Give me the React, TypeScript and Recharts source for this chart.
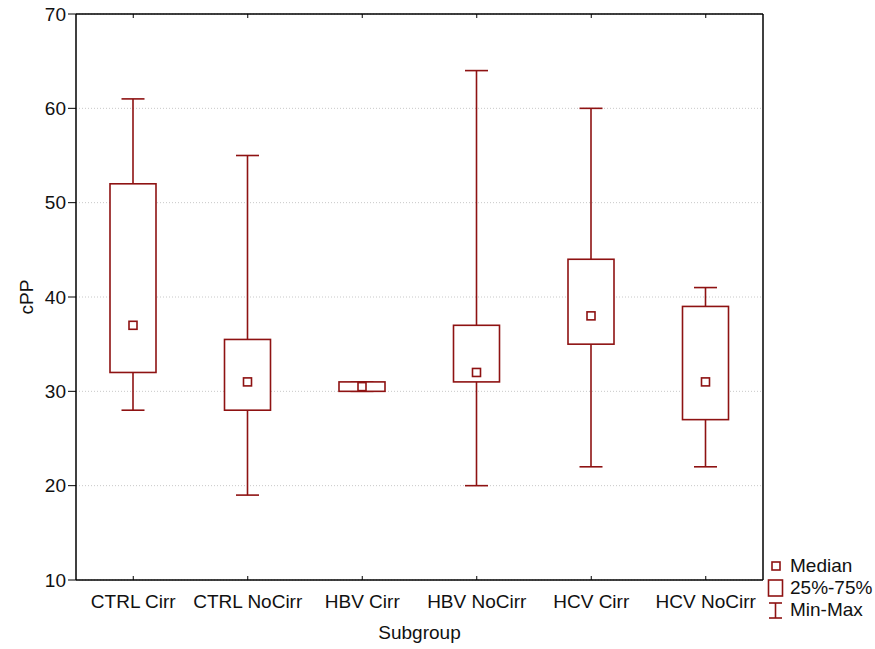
import { ComposedChart, Bar, XAxis, YAxis, CartesianGrid } from 'recharts';

const groups = ['CTRL Cirr', 'CTRL NoCirr', 'HBV Cirr', 'HBV NoCirr', 'HCV Cirr', 'HCV NoCirr'];
const mins = [28, 19, 30, 20, 22, 22];
const q1s = [32, 28, 30, 31, 35, 27];
const medians = [37, 31, 30.5, 32, 38, 31];
const q3s = [52, 35.5, 31, 37, 44, 39];
const maxs = [61, 55, 31, 64, 60, 41];
const yTicks = [10, 20, 30, 40, 50, 60, 70];

const RED = '#8e1212';
const FONT = '"Liberation Sans", Arial, sans-serif';

const data = groups.map((g, i) => ({
    group: g,
    min: mins[i],
    q1: q1s[i],
    median: medians[i],
    q3: q3s[i],
    max: maxs[i]
}));

function BoxShape(props: any) {
    const { x, y, width, height, payload } = props;
    const top = Math.min(y, y + height);
    const h = Math.abs(height);
    const span = payload.max - payload.min;
    const py = (v: number) => (span === 0 ? top : top + ((payload.max - v) / span) * h);
    const cx = x + width / 2;
    const capHalf = width / 4;
    const yMax = py(payload.max);
    const yMin = py(payload.min);
    const yQ3 = py(payload.q3);
    const yQ1 = py(payload.q1);
    const yMed = py(payload.median);
    return (
        <g stroke={RED} strokeWidth={1.6} fill="none">
            <line x1={cx} x2={cx} y1={yMax} y2={yQ3} />
            <line x1={cx} x2={cx} y1={yQ1} y2={yMin} />
            <line x1={cx - capHalf} x2={cx + capHalf} y1={yMax} y2={yMax} />
            <line x1={cx - capHalf} x2={cx + capHalf} y1={yMin} y2={yMin} />
            <rect x={x} y={yQ3} width={width} height={yQ1 - yQ3} fill="#fff" />
            <rect x={cx - 4} y={yMed - 4} width={8} height={8} fill="#fff" />
        </g>
    );
}

function LegendBox() {
    const row = { display: 'flex', alignItems: 'center', height: 22 };
    const text = { marginLeft: 6, fontSize: 19, color: '#111' };
    return (
        <div style={{ position: 'absolute', left: 767, top: 555, fontFamily: FONT }}>
            <div style={row}>
                <svg width={17} height={20}>
                    <rect x={5} y={6} width={8} height={8} fill="#fff" stroke={RED} strokeWidth={1.6} />
                </svg>
                <span style={text}>Median</span>
            </div>
            <div style={row}>
                <svg width={17} height={20}>
                    <rect x={1.5} y={2} width={14} height={16} fill="#fff" stroke={RED} strokeWidth={1.6} />
                </svg>
                <span style={text}>25%-75%</span>
            </div>
            <div style={row}>
                <svg width={17} height={20}>
                    <g stroke={RED} strokeWidth={1.6}>
                        <line x1={2} x2={15} y1={3} y2={3} />
                        <line x1={2} x2={15} y1={18} y2={18} />
                        <line x1={8.5} x2={8.5} y1={3} y2={18} />
                    </g>
                </svg>
                <span style={text}>Min-Max</span>
            </div>
        </div>
    );
}

export default function App() {
    const tickStyle = { fill: '#111', fontSize: 19, fontFamily: FONT };
    return (
        <div style={{ position: 'absolute', left: 0, top: 0, width: 875, height: 649, background: '#fff' }}>
            <ComposedChart
                width={875}
                height={649}
                data={data}
                margin={{ top: 13, right: 111, bottom: 7, left: 16 }}
            >
                <CartesianGrid vertical={false} stroke="#c8c8c8" strokeDasharray="1 2" />
                <XAxis
                    dataKey="group"
                    height={62}
                    tickSize={-4}
                    tickMargin={19}
                    interval={0}
                    stroke="#000"
                    axisLine={{ stroke: '#000', strokeWidth: 1.5 }}
                    tickLine={{ stroke: '#000' }}
                    tick={tickStyle}
                    label={{ value: 'Subgroup', position: 'insideBottom', offset: 3, style: { ...tickStyle } }}
                />
                <XAxis
                    xAxisId="top"
                    orientation="top"
                    dataKey="group"
                    height={1}
                    tickSize={-4}
                    interval={0}
                    axisLine={{ stroke: '#000', strokeWidth: 1.5 }}
                    tickLine={{ stroke: '#000' }}
                    tick={() => <g />}
                />
                <YAxis
                    domain={[10, 70]}
                    ticks={yTicks}
                    width={60}
                    tickSize={8}
                    tickMargin={2}
                    axisLine={{ stroke: '#000', strokeWidth: 1.5 }}
                    tickLine={{ stroke: '#000' }}
                    tick={tickStyle}
                    label={{ value: 'cPP', angle: -90, position: 'insideLeft', offset: 10, style: { ...tickStyle, textAnchor: 'middle' } }}
                />
                <YAxis
                    yAxisId="r"
                    orientation="right"
                    domain={[10, 70]}
                    ticks={yTicks}
                    width={1}
                    tickSize={-4}
                    axisLine={{ stroke: '#000', strokeWidth: 1.5 }}
                    tickLine={{ stroke: '#000' }}
                    tick={() => <g />}
                />
                <Bar
                    dataKey={(d: any) => [d.min, d.max]}
                    barSize={46}
                    shape={BoxShape}
                    isAnimationActive={false}
                />
            </ComposedChart>
            <LegendBox />
        </div>
    );
}
